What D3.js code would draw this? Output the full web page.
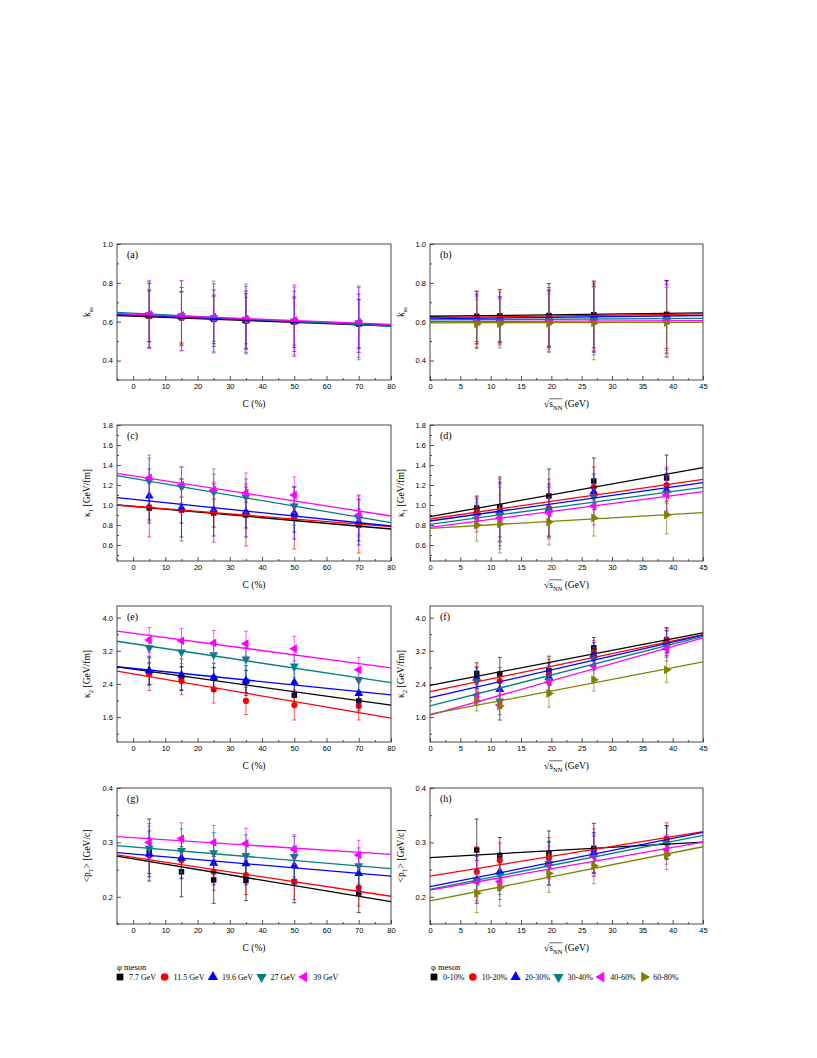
<!DOCTYPE html>
<html>
<head>
<meta charset="utf-8">
<script src="https://cdn.jsdelivr.net/npm/d3@7.9.0/dist/d3.min.js"></script>
<style>
  body { margin: 0; background: #fff; }
  svg text { font-family: "Liberation Serif", "Times New Roman", serif; fill: #000; }
  .tick text { font-family: "Liberation Sans", Arial, sans-serif; font-size: 7.5px; }
</style>
</head>
<body>
<svg id="chart" width="817" height="1058"></svg>
<script>
// collision energies (GeV) and centrality classes
const energies = [7.7, 11.5, 19.6, 27, 39];
const energyNames = ['7.7 GeV', '11.5 GeV', '19.6 GeV', '27 GeV', '39 GeV'];
const centralities = [5, 15, 25, 35, 50, 70];
const centralityNames = ['0-10%', '10-20%', '20-30%', '30-40%', '40-60%', '60-80%'];

// every table: rows = centrality class, columns = energy
const kss = [
  [0.628, 0.630, 0.632, 0.636, 0.638],
  [0.620, 0.622, 0.626, 0.630, 0.632],
  [0.612, 0.614, 0.618, 0.620, 0.624],
  [0.604, 0.606, 0.608, 0.612, 0.614],
  [0.598, 0.600, 0.602, 0.604, 0.605],
  [0.588, 0.590, 0.592, 0.594, 0.596]
];
const kssErr = [
  [0.130, 0.135, 0.165, 0.170, 0.175],
  [0.135, 0.130, 0.150, 0.180, 0.180],
  [0.125, 0.115, 0.145, 0.175, 0.185],
  [0.140, 0.120, 0.150, 0.170, 0.180],
  [0.130, 0.120, 0.155, 0.175, 0.185],
  [0.125, 0.125, 0.150, 0.190, 0.180]
];
const kappa1 = [
  [0.97, 0.98, 1.09, 1.24, 1.27],
  [0.95, 0.95, 0.97, 1.18, 1.20],
  [0.92, 0.93, 0.95, 1.13, 1.15],
  [0.90, 0.90, 0.93, 1.08, 1.12],
  [0.87, 0.87, 0.92, 0.99, 1.10],
  [0.80, 0.81, 0.83, 0.87, 0.90]
];
const kappa1Err = [
  [0.12, 0.30, 0.27, 0.23, 0.23],
  [0.13, 0.31, 0.29, 0.20, 0.18],
  [0.14, 0.30, 0.26, 0.18, 0.21],
  [0.13, 0.31, 0.25, 0.18, 0.20],
  [0.14, 0.31, 0.26, 0.19, 0.18],
  [0.16, 0.29, 0.23, 0.18, 0.19]
];
const kappa2 = [
  [2.65, 2.64, 2.72, 3.27, 3.46],
  [2.54, 2.47, 2.62, 3.17, 3.44],
  [2.54, 2.27, 2.56, 3.10, 3.39],
  [2.46, 1.99, 2.48, 3.00, 3.37],
  [2.13, 1.89, 2.44, 2.83, 3.25],
  [1.99, 1.87, 2.17, 2.50, 2.74]
];
const kappa2Err = [
  [0.26, 0.40, 0.35, 0.25, 0.30],
  [0.28, 0.33, 0.38, 0.28, 0.30],
  [0.25, 0.33, 0.34, 0.30, 0.30],
  [0.27, 0.33, 0.36, 0.28, 0.30],
  [0.25, 0.36, 0.30, 0.27, 0.30],
  [0.24, 0.34, 0.33, 0.27, 0.30]
];
const meanPt = [
  [0.286, 0.276, 0.279, 0.289, 0.300],
  [0.246, 0.267, 0.271, 0.285, 0.307],
  [0.231, 0.246, 0.262, 0.281, 0.300],
  [0.230, 0.240, 0.261, 0.276, 0.298],
  [0.228, 0.228, 0.257, 0.274, 0.287],
  [0.207, 0.217, 0.243, 0.257, 0.277]
];
const meanPtErr = [
  [0.057, 0.033, 0.042, 0.046, 0.030],
  [0.046, 0.032, 0.038, 0.040, 0.029],
  [0.043, 0.034, 0.040, 0.037, 0.031],
  [0.037, 0.036, 0.039, 0.038, 0.028],
  [0.039, 0.033, 0.036, 0.037, 0.027],
  [0.036, 0.034, 0.035, 0.033, 0.027]
];

// linear fits [intercept, slope]; vs C one per energy, vs sqrt(s) one per centrality
const kssFitC = [[0.6288, -0.000635], [0.6328, -0.000635], [0.6346, -0.000682], [0.6438, -0.000835], [0.6387, -0.000659]];
const kssFitE = [[0.628, 0.000378], [0.621, 0.000422], [0.615, 0.000378], [0.609, 0.000178], [0.600, 0.000133], [0.594, 0.0000667]];
const kappa1FitC = [[0.9859, -0.002824], [0.9872, -0.002553], [1.0564, -0.00333], [1.2654, -0.00553], [1.2919, -0.005024]];
const kappa1FitE = [[0.883, 0.01089], [0.860, 0.00882], [0.840, 0.00851], [0.807, 0.00822], [0.777, 0.00791], [0.767, 0.00347]];
const kappa2FitC = [[2.7558, -0.010847], [2.6452, -0.013353], [2.7751, -0.007988], [3.3712, -0.011765], [3.6201, -0.010376]];
const kappa2FitE = [[2.368, 0.028044], [2.216, 0.030533], [2.070, 0.033444], [1.872, 0.037289], [1.648, 0.041378], [1.670, 0.028]];
const meanPtFitC = [[0.2698, -0.000985], [0.2725, -0.000894], [0.2785, -0.000506], [0.2915, -0.000494], [0.3086, -0.000382]];
const meanPtFitE = [[0.272, 0.000633], [0.238, 0.001822], [0.2185, 0.002222], [0.2135, 0.002211], [0.2124, 0.001958], [0.1926, 0.002209]];

// axis ticks
const cTicks = [0, 10, 20, 30, 40, 50, 60, 70, 80];
const eTicks = [0, 5, 10, 15, 20, 25, 30, 35, 40, 45];
const kssTicks = [0.4, 0.6, 0.8, 1.0];
const kappa1Ticks = [0.6, 0.8, 1.0, 1.2, 1.4, 1.6, 1.8];
const kappa2Ticks = [1.6, 2.4, 3.2, 4.0];
const meanPtTicks = [0.2, 0.3, 0.4];

const colors = ['#000000', '#ff0000', '#0000ff', '#008080', '#ff00ff', '#808000'];
const shapes = ['square', 'circle', 'up', 'down', 'left', 'right'];

const svg = d3.select('#chart');
const rowTops = [244, 425, 606, 788];
const panelH = 136;
const cols = { C: [117, 391], E: [430, 703] };

function marker(sel, shape, size) {
  const type = shape === 'square' ? d3.symbolSquare : shape === 'circle' ? d3.symbolCircle : d3.symbolTriangle;
  const rot = { up: 0, down: 180, left: -90, right: 90 }[shape] || 0;
  return sel.append('path')
    .attr('d', d3.symbol(type, size)())
    .attr('data-rot', rot);
}

const panels = [
  { label: '(a)', row: 0, side: 'C', data: kss, err: kssErr, fits: kssFitC, yDomain: [0.3, 1.0], ticks: kssTicks, minor: 0.1, ylab: 'k' },
  { label: '(b)', row: 0, side: 'E', data: kss, err: kssErr, fits: kssFitE, yDomain: [0.3, 1.0], ticks: kssTicks, minor: 0.1, ylab: 'k' },
  { label: '(c)', row: 1, side: 'C', data: kappa1, err: kappa1Err, fits: kappa1FitC, yDomain: [0.44, 1.8], ticks: kappa1Ticks, minor: 0.1, ylab: 'k1' },
  { label: '(d)', row: 1, side: 'E', data: kappa1, err: kappa1Err, fits: kappa1FitE, yDomain: [0.44, 1.8], ticks: kappa1Ticks, minor: 0.1, ylab: 'k1' },
  { label: '(e)', row: 2, side: 'C', data: kappa2, err: kappa2Err, fits: kappa2FitC, yDomain: [1.0, 4.28], ticks: kappa2Ticks, minor: 0.4, ylab: 'k2' },
  { label: '(f)', row: 2, side: 'E', data: kappa2, err: kappa2Err, fits: kappa2FitE, yDomain: [1.0, 4.28], ticks: kappa2Ticks, minor: 0.4, ylab: 'k2' },
  { label: '(g)', row: 3, side: 'C', data: meanPt, err: meanPtErr, fits: meanPtFitC, yDomain: [0.15, 0.4], ticks: meanPtTicks, minor: 0.05, ylab: 'pt' },
  { label: '(h)', row: 3, side: 'E', data: meanPt, err: meanPtErr, fits: meanPtFitE, yDomain: [0.15, 0.4], ticks: meanPtTicks, minor: 0.05, ylab: 'pt' }
];

function drawYLabel(g, kind, cx, cy) {
  const t = g.append('text')
    .attr('transform', `translate(${cx},${cy}) rotate(-90)`)
    .attr('text-anchor', 'middle')
    .attr('font-size', 9.5);
  if (kind === 'k') {
    t.append('tspan').text('k');
    t.append('tspan').attr('font-size', 6.5).attr('dy', 2.5).text('ss');
  } else if (kind === 'k1' || kind === 'k2') {
    t.append('tspan').text('κ');
    t.append('tspan').attr('font-size', 6.5).attr('dy', 2.5).text(kind === 'k1' ? '1' : '2');
    t.append('tspan').attr('dy', -2.5).text(' [GeV/fm]');
  } else {
    t.append('tspan').text('<p');
    t.append('tspan').attr('font-size', 6.5).attr('dy', 2.5).text('T');
    t.append('tspan').attr('dy', -2.5).text('> [GeV/c]');
  }
}

function drawXLabel(g, side, cx, y) {
  if (side === 'C') {
    g.append('text').attr('x', cx).attr('y', y).attr('text-anchor', 'middle')
      .attr('font-size', 9.5).text('C (%)');
    return;
  }
  const t = g.append('text').attr('x', cx).attr('y', y).attr('text-anchor', 'middle').attr('font-size', 9.5);
  t.append('tspan').text('√s');
  t.append('tspan').attr('font-size', 6.5).attr('dy', 2.5).text('NN');
  t.append('tspan').attr('dy', -2.5).text(' (GeV)');
  const node = t.node();
  const sx = node.getStartPositionOfChar(1).x;
  const ex = node.getEndPositionOfChar(3).x;
  g.append('line').attr('x1', sx).attr('x2', ex)
    .attr('y1', y - 8.2).attr('y2', y - 8.2)
    .attr('stroke', '#000').attr('stroke-width', 0.6);
}

panels.forEach(p => {
  const [x0, x1] = cols[p.side];
  const top = rowTops[p.row];
  const bottom = top + panelH;
  const x = d3.scaleLinear().domain(p.side === 'C' ? [-5, 80] : [0, 45]).range([x0, x1]);
  const y = d3.scaleLinear().domain(p.yDomain).range([bottom, top]);
  const g = svg.append('g');

  // axes with inward ticks
  const xt = p.side === 'C' ? cTicks : eTicks;
  const xStep = xt[1] - xt[0];
  const xMinor = d3.range(x.domain()[0], x.domain()[1] + 1e-9, xStep / 2).filter(v => !xt.some(t => Math.abs(t - v) < 1e-9));
  g.append('g').attr('transform', `translate(0,${bottom})`)
    .call(d3.axisBottom(x).tickValues(xt).tickSize(-4).tickPadding(4).tickFormat(d3.format('d')))
    .call(a => a.select('.domain').remove());
  g.append('g').attr('transform', `translate(0,${bottom})`)
    .call(d3.axisBottom(x).tickValues(xMinor).tickSize(-2).tickFormat(''))
    .call(a => a.select('.domain').remove());

  const yMinor = d3.range(Math.ceil(p.yDomain[0] / p.minor - 1e-6) * p.minor, p.yDomain[1] + 1e-9, p.minor)
    .filter(v => !p.ticks.some(t => Math.abs(t - v) < 1e-6) && v >= p.yDomain[0] - 1e-9);
  g.append('g').attr('transform', `translate(${x0},0)`)
    .call(d3.axisLeft(y).tickValues(p.ticks).tickSize(-4).tickPadding(4).tickFormat(d3.format('.1f')))
    .call(a => a.select('.domain').remove());
  g.append('g').attr('transform', `translate(${x0},0)`)
    .call(d3.axisLeft(y).tickValues(yMinor).tickSize(-2).tickFormat(''))
    .call(a => a.select('.domain').remove());
  g.selectAll('.tick line').attr('stroke', '#222').attr('stroke-width', 0.8);

  // frame
  g.append('rect').attr('x', x0).attr('y', top).attr('width', x1 - x0).attr('height', panelH)
    .attr('fill', 'none').attr('stroke', '#333').attr('stroke-width', 0.9);

  g.append('text').attr('x', x0 + 10).attr('y', top + 14).attr('font-size', 10).text(p.label);
  drawYLabel(g, p.ylab, p.side === 'C' ? 90 : 404, top + panelH / 2);
  drawXLabel(g, p.side, (x0 + x1) / 2, bottom + 27);

  // build series
  const series = p.side === 'C'
    ? energies.map((en, s) => centralities.map((c, i) => ({ x: c, v: p.data[i][s], e: p.err[i][s] })))
    : centralities.map((c, s) => energies.map((en, j) => ({ x: en, v: p.data[s][j], e: p.err[s][j] })));

  const plot = g.append('g');
  series.forEach((pts, s) => {
    const col = colors[s];
    const eb = plot.append('g').attr('stroke', col).attr('stroke-width', 1).attr('stroke-opacity', 0.65);
    pts.forEach(d => {
      const px = x(d.x), yt = y(d.v + d.e), yb = y(d.v - d.e);
      eb.append('line').attr('x1', px).attr('x2', px).attr('y1', yt).attr('y2', yb);
      eb.append('line').attr('x1', px - 2).attr('x2', px + 2).attr('y1', yt).attr('y2', yt);
      eb.append('line').attr('x1', px - 2).attr('x2', px + 2).attr('y1', yb).attr('y2', yb);
    });
    pts.forEach(d => {
      const size = shapes[s] === 'square' ? 30 : shapes[s] === 'circle' ? 30 : 34;
      const m = marker(plot, shapes[s], size).attr('fill', col);
      m.attr('transform', `translate(${x(d.x)},${y(d.v)}) rotate(${m.attr('data-rot')})`);
    });
  });
  series.forEach((pts, s) => {
    const [b, k] = p.fits[s];
    const xs = x.domain();
    plot.append('path')
      .attr('d', d3.line().x(v => x(v)).y(v => y(b + k * v))(xs))
      .attr('stroke', colors[s]).attr('stroke-width', 1.3).attr('fill', 'none');
  });
});

// legends
function legend(x0, names) {
  const g = svg.append('g');
  g.append('text').attr('x', x0).attr('y', 970).attr('font-size', 8.5).text('φ meson');
  let cx = x0 + 3;
  names.forEach((name, s) => {
    const m = marker(g, shapes[s], 46).attr('fill', colors[s]);
    m.attr('transform', `translate(${cx},977) rotate(${m.attr('data-rot')})`);
    const t = g.append('text').attr('x', cx + 9).attr('y', 980).attr('font-size', 8).text(name);
    cx = cx + 9 + t.node().getComputedTextLength() + 8.5;
  });
}
legend(117, energyNames);
legend(431, centralityNames);
</script>
</body>
</html>
